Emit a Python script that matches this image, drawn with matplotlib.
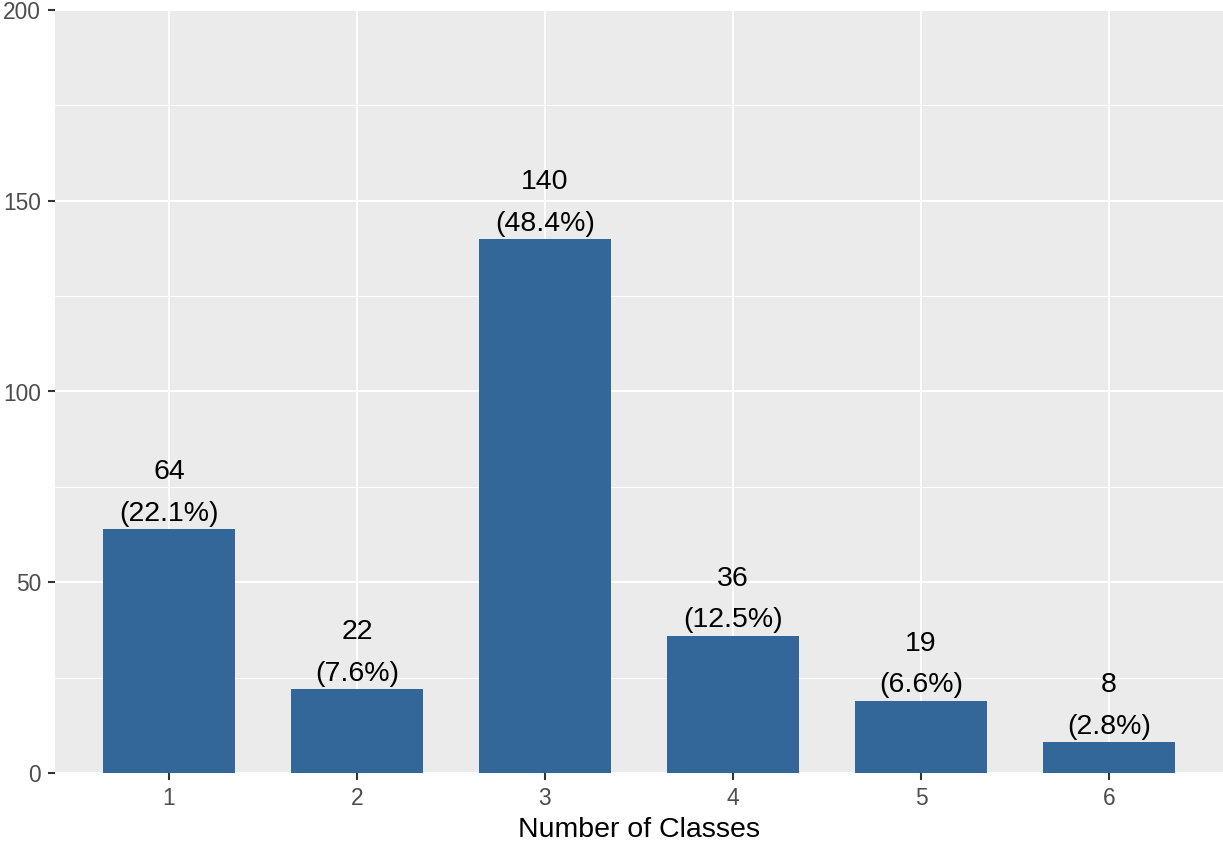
import numpy as np
import matplotlib.pyplot as plt

plt.rcParams['font.family'] = ['Liberation Sans', 'DejaVu Sans']

classes = [1, 2, 3, 4, 5, 6]
counts = [64, 22, 140, 36, 19, 8]
pcts = ['22.1%', '7.6%', '48.4%', '12.5%', '6.6%', '2.8%']

bar_color = '#336699'
panel_bg = '#EBEBEB'
tick_col = '#4D4D4D'

fig = plt.figure(figsize=(12.23, 8.46), dpi=100)
ax = fig.add_axes([55 / 1223, 1 - 773 / 846, (1223 - 55) / 1223, (773 - 10) / 846])
ax.set_facecolor(panel_bg)

ax.bar(classes, counts, width=0.7, color=bar_color, zorder=3)

# two-line label above each bar: count, then percentage
for x, c, p in zip(classes, counts, pcts):
    ax.annotate(f'({p})', (x, c), xytext=(0, 6), textcoords='offset points',
                ha='center', va='baseline', fontsize=20.5, zorder=4)
    ax.annotate(str(c), (x, c), xytext=(0, 36), textcoords='offset points',
                ha='center', va='baseline', fontsize=20.5, zorder=4)

ax.set_xlim(0.394, 6.606)
ax.set_ylim(0, 200)
ax.set_xticks(classes)
ax.set_yticks([0, 50, 100, 150, 200])
ax.set_yticks([25, 75, 125, 175], minor=True)

ax.grid(which='major', color='white', linewidth=1.5, zorder=0)
ax.grid(which='minor', axis='y', color='white', linewidth=0.75, zorder=0)
ax.set_axisbelow(True)

for s in ax.spines.values():
    s.set_visible(False)

ax.tick_params(which='major', length=5, width=1.5, color='#333333', labelcolor=tick_col,
               labelsize=16.4, pad=5)
ax.tick_params(which='minor', length=0)

ax.set_xlabel('Number of Classes', fontsize=20.5, labelpad=5)

fig.savefig('out.png', dpi=100, facecolor='white')
